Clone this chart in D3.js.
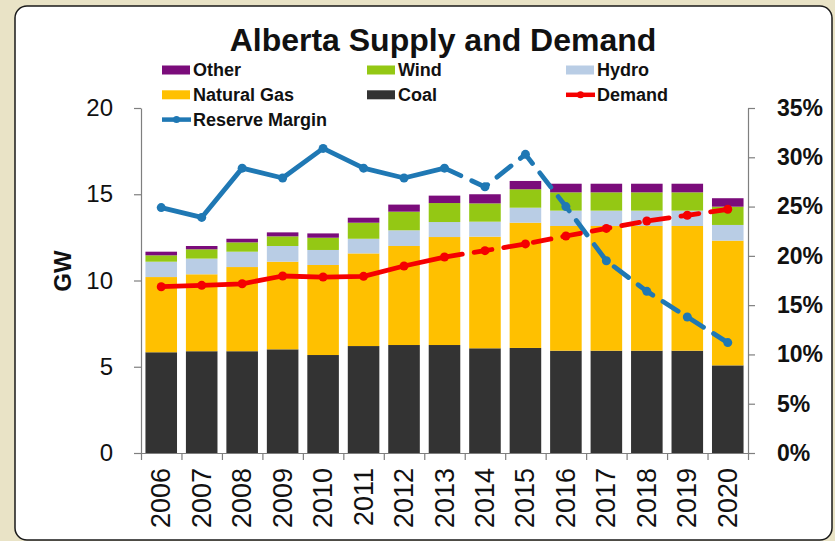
<!DOCTYPE html>
<html>
<head>
<meta charset="utf-8">
<script src="https://cdn.jsdelivr.net/npm/d3@7"></script>
<style>
  body { margin: 0; background: #e9e3c6; }
  svg { display: block; font-family: "Liberation Sans", Arial, sans-serif; }
</style>
</head>
<body>
<div id="chart"></div>
<script>
// data
const years = ['2006', '2007', '2008', '2009', '2010', '2011', '2012', '2013', '2014', '2015', '2016', '2017', '2018', '2019', '2020'];
const coal = [5.84, 5.9, 5.9, 6.01, 5.68, 6.2, 6.26, 6.26, 6.07, 6.09, 5.93, 5.93, 5.93, 5.93, 5.08];
const naturalGas = [4.36, 4.46, 4.88, 5.08, 5.22, 5.37, 5.74, 6.26, 6.47, 7.26, 7.23, 7.23, 7.23, 7.23, 7.23];
const hydro = [0.89, 0.91, 0.89, 0.91, 0.87, 0.85, 0.91, 0.87, 0.87, 0.87, 0.89, 0.89, 0.89, 0.89, 0.91];
const wind = [0.37, 0.54, 0.54, 0.56, 0.71, 0.93, 1.08, 1.1, 1.06, 1.07, 1.06, 1.06, 1.06, 1.06, 1.06];
const other = [0.21, 0.19, 0.21, 0.23, 0.25, 0.29, 0.41, 0.43, 0.53, 0.48, 0.5, 0.5, 0.5, 0.5, 0.49];
const demand = [9.64, 9.72, 9.81, 10.26, 10.2, 10.24, 10.84, 11.36, 11.73, 12.12, 12.58, 13.02, 13.45, 13.78, 14.13];
const reserveMargin = [0.249, 0.239, 0.289, 0.279, 0.309, 0.289, 0.279, 0.289, 0.27, 0.303, 0.25, 0.195, 0.164, 0.138, 0.112];
const gwTicks = [0, 5, 10, 15, 20];
const pctTicks = [0, 0.05, 0.1, 0.15, 0.2, 0.25, 0.3, 0.35];

const W = 835, H = 541;
const plot = { left: 141, right: 748, top: 108, bottom: 453 };

const svg = d3.select('#chart').append('svg')
  .attr('width', W)
  .attr('height', H);

// white rounded panel
svg.append('rect')
  .attr('x', 15).attr('y', 6)
  .attr('width', 817).attr('height', 534)
  .attr('rx', 12).attr('ry', 12)
  .style('fill', 'white')
  .style('stroke', '#1a1a1a')
  .style('stroke-width', 1.5);

const x = d3.scaleBand()
  .domain(years)
  .range([plot.left, plot.right])
  .paddingInner(0.22)
  .paddingOuter(0.11);

const y = d3.scaleLinear().domain([0, 20]).range([plot.bottom, plot.top]);
const yR = d3.scaleLinear().domain([0, 0.35]).range([plot.bottom, plot.top]);

// stacked bars
const keys = ['coal', 'naturalGas', 'hydro', 'wind', 'other'];
const colors = { coal: '#333333', naturalGas: '#ffc000', hydro: '#b9cde5', wind: '#94c814', other: '#7b0c7b' };
const table = years.map((yr, i) => ({
  year: yr, coal: coal[i], naturalGas: naturalGas[i], hydro: hydro[i], wind: wind[i], other: other[i]
}));
const stack = d3.stack().keys(keys)(table);

svg.append('g').selectAll('g')
  .data(stack)
  .enter()
  .append('g')
  .style('fill', d => colors[d.key])
  .selectAll('rect')
  .data(d => d)
  .enter()
  .append('rect')
  .attr('x', d => x(d.data.year))
  .attr('y', d => y(d[1]))
  .attr('width', x.bandwidth())
  .attr('height', d => y(d[0]) - y(d[1]));

// axes
const axisColor = '#7f7f7f';
const gLeft = svg.append('g')
  .attr('transform', 'translate(' + plot.left + ',0)')
  .call(d3.axisLeft(y).tickValues(gwTicks).tickSize(7).tickSizeOuter(0).tickPadding(21));
gLeft.selectAll('text').style('font-size', '24px').style('fill', '#111');

const gRight = svg.append('g')
  .attr('transform', 'translate(' + plot.right + ',0)')
  .call(d3.axisRight(yR).tickValues(pctTicks).tickSize(7).tickSizeOuter(0).tickPadding(22)
    .tickFormat(d3.format('.0%')));
gRight.selectAll('text').style('font-size', '23px').style('font-weight', 'bold').style('fill', '#111');

// x axis ticks sit between categories
const xEdge = d3.scaleLinear().domain([0, years.length]).range([plot.left, plot.right]);
svg.append('g')
  .attr('transform', 'translate(0,' + plot.bottom + ')')
  .call(d3.axisBottom(xEdge).tickValues(d3.range(years.length + 1)).tickSize(7).tickSizeOuter(0).tickFormat(''));

svg.selectAll('.domain, .tick line').style('stroke', axisColor).style('stroke-width', 1.2);

// year labels, rotated
svg.append('g').selectAll('text')
  .data(years)
  .enter()
  .append('text')
  .attr('transform', d => 'translate(' + (x(d) + x.bandwidth() / 2 + 9) + ',' + (plot.bottom + 15) + ') rotate(-90)')
  .attr('text-anchor', 'end')
  .style('font-size', '27px')
  .style('fill', '#111')
  .text(d => d);

// GW label
svg.append('text')
  .attr('transform', 'translate(71,271) rotate(-90)')
  .attr('text-anchor', 'middle')
  .style('font-size', '24px')
  .style('font-weight', 'bold')
  .style('fill', '#111')
  .text('GW');

// lines: solid up to 2013, dashed afterwards
const split = years.indexOf('2013');
const drawLine = (values, scale, color) => {
  const pts = values.map((v, i) => [x(years[i]) + x.bandwidth() / 2, scale(v)]);
  const line = d3.line();
  svg.append('path')
    .attr('d', line(pts.slice(0, split + 1)))
    .style('fill', 'none')
    .style('stroke', color)
    .style('stroke-width', 4.8)
    .style('stroke-linejoin', 'round');
  svg.append('path')
    .attr('d', line(pts.slice(split)))
    .style('fill', 'none')
    .style('stroke', color)
    .style('stroke-width', 4.8)
    .style('stroke-dasharray', '18,12')
    .style('stroke-linecap', 'round');
  svg.append('g').selectAll('circle')
    .data(pts)
    .enter()
    .append('circle')
    .attr('cx', d => d[0])
    .attr('cy', d => d[1])
    .attr('r', 4.5)
    .style('fill', color);
};
drawLine(reserveMargin, yR, '#1f78b4');
drawLine(demand, y, '#f50000');

// title
svg.append('text')
  .attr('x', 443)
  .attr('y', 51)
  .attr('text-anchor', 'middle')
  .style('font-size', '32px')
  .style('font-weight', 'bold')
  .style('fill', '#111')
  .text('Alberta Supply and Demand');

// legend
const legendItems = [
  { name: 'Other', color: colors.other, type: 'box', col: 0, row: 0 },
  { name: 'Wind', color: colors.wind, type: 'box', col: 1, row: 0 },
  { name: 'Hydro', color: colors.hydro, type: 'box', col: 2, row: 0 },
  { name: 'Natural Gas', color: colors.naturalGas, type: 'box', col: 0, row: 1 },
  { name: 'Coal', color: colors.coal, type: 'box', col: 1, row: 1 },
  { name: 'Demand', color: '#f50000', type: 'line', col: 2, row: 1 },
  { name: 'Reserve Margin', color: '#1f78b4', type: 'line', col: 0, row: 2 }
];
const colX = [162, 367, 566];
const legend = svg.append('g').selectAll('g')
  .data(legendItems)
  .enter()
  .append('g')
  .attr('transform', d => 'translate(' + colX[d.col] + ',' + (70 + d.row * 24.8) + ')');

legend.filter(d => d.type === 'box')
  .append('rect')
  .attr('x', 0).attr('y', -4.5)
  .attr('width', 28).attr('height', 9)
  .style('fill', d => d.color);
legend.filter(d => d.type === 'line')
  .append('line')
  .attr('x1', 0).attr('x2', 29)
  .style('stroke', d => d.color)
  .style('stroke-width', 4.5);
legend.filter(d => d.type === 'line')
  .append('circle')
  .attr('cx', 14.5).attr('r', 3.5)
  .style('fill', d => d.color);
legend.append('text')
  .attr('x', 31)
  .attr('dy', '0.36em')
  .style('font-size', '18px')
  .style('font-weight', 'bold')
  .style('fill', '#111')
  .text(d => d.name);
</script>
</body>
</html>
